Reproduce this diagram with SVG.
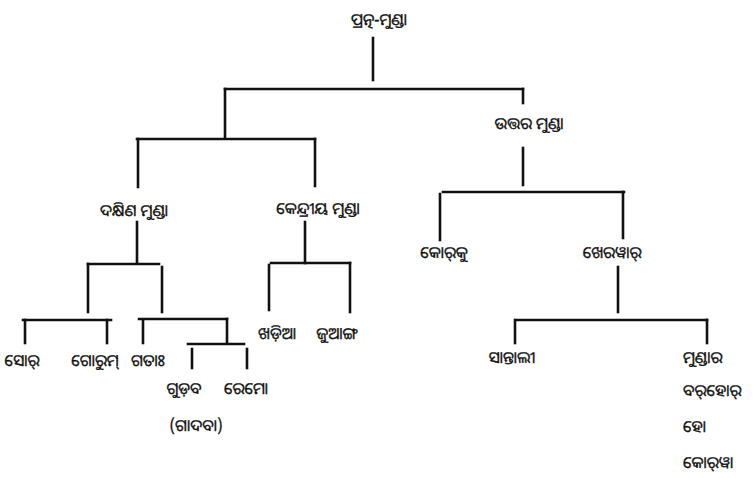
<svg xmlns="http://www.w3.org/2000/svg" width="753" height="478" viewBox="0 0 753 478">
<style>
.t{font-family:"Noto Sans Oriya","Lohit Odia","Noto Sans",sans-serif;font-size:16px;fill:#111;stroke:#111;stroke-width:0.35;text-anchor:middle}
.l{text-anchor:start}
.c line{stroke:#111;stroke-width:2.6;stroke-linecap:square}
</style>
<rect width="753" height="478" fill="#fff"/>
<g class="c" id="connectors">
<line x1="373" y1="38" x2="373" y2="80"/>
<line x1="225" y1="89" x2="523" y2="89"/>
<line x1="225" y1="89" x2="225" y2="138"/>
<line x1="523" y1="89" x2="523" y2="103"/>
<line x1="137" y1="139" x2="315" y2="139"/>
<line x1="138" y1="139" x2="138" y2="187"/>
<line x1="315" y1="139" x2="315" y2="186"/>
<line x1="523" y1="148" x2="523" y2="185"/>
<line x1="443" y1="192" x2="624" y2="192"/>
<line x1="440" y1="194" x2="440" y2="240"/>
<line x1="623" y1="192" x2="623" y2="238"/>
<line x1="137" y1="222" x2="137" y2="263"/>
<line x1="88" y1="264" x2="159" y2="264"/>
<line x1="88" y1="264" x2="88" y2="312"/>
<line x1="162" y1="267" x2="162" y2="312"/>
<line x1="305" y1="222" x2="305" y2="263"/>
<line x1="271" y1="263" x2="350" y2="263"/>
<line x1="269" y1="265" x2="269" y2="310"/>
<line x1="350" y1="263" x2="350" y2="312"/>
<line x1="23" y1="320" x2="111" y2="320"/>
<line x1="25" y1="320" x2="25" y2="343"/>
<line x1="107" y1="320" x2="107" y2="343"/>
<line x1="139" y1="319" x2="227" y2="319"/>
<line x1="143" y1="320" x2="143" y2="343"/>
<line x1="227" y1="319" x2="227" y2="342"/>
<line x1="188" y1="344" x2="244" y2="344"/>
<line x1="192" y1="349" x2="192" y2="368"/>
<line x1="247" y1="349" x2="247" y2="368"/>
<line x1="618" y1="267" x2="618" y2="312"/>
<line x1="517" y1="320" x2="707" y2="320"/>
<line x1="515" y1="320" x2="515" y2="343"/>
<line x1="707" y1="320" x2="707" y2="343"/>
</g>
<g id="n_root"><text class="t" x="379" y="25">ପ୍ରତ୍ନ-ମୁଣ୍ଡା</text></g>
<g id="n_north"><text class="t" x="529" y="129">ଉତ୍ତର ମୁଣ୍ଡା</text></g>
<g id="n_south"><text class="t" x="134" y="216">ଦକ୍ଷିଣ ମୁଣ୍ଡା</text></g>
<g id="n_central"><text class="t" x="318" y="214">କେନ୍ଦ୍ରୀୟ ମୁଣ୍ଡା</text></g>
<g id="n_korku"><text class="t" x="444" y="258">କୋର୍‌କୁ</text></g>
<g id="n_kherwari"><text class="t" x="612" y="258">ଖେରୱାର୍</text></g>
<g id="n_sora"><text class="t" x="22" y="366">ସୋର୍</text></g>
<g id="n_gorum"><text class="t" x="95" y="366">ଗୋରୁମ୍</text></g>
<g id="n_gta"><text class="t" x="148" y="366">ଗତାଃ</text></g>
<g id="n_gutob"><text class="t" x="184" y="394">ଗୁଡ଼ବ</text><text class="t" x="196" y="431">(ଗାଦବା)</text></g>
<g id="n_remo"><text class="t" x="246" y="394">ରେମୋ</text></g>
<g id="n_kharia"><text class="t" x="277" y="339">ଖଡ଼ିଆ</text></g>
<g id="n_juang"><text class="t" x="337" y="339">ଜୁଆଙ୍ଗ</text></g>
<g id="n_santali"><text class="t" x="512" y="363">ସାନ୍ତାଲୀ</text></g>
<g id="n_mundari"><text class="t l" x="683" y="363">ମୁଣ୍ଡାର</text><text class="t l" x="683" y="396">ବର୍‌ହୋର୍</text><text class="t l" x="683" y="432">ହୋ</text><text class="t l" x="683" y="468">କୋର୍‌ୱା</text></g>
</svg>
